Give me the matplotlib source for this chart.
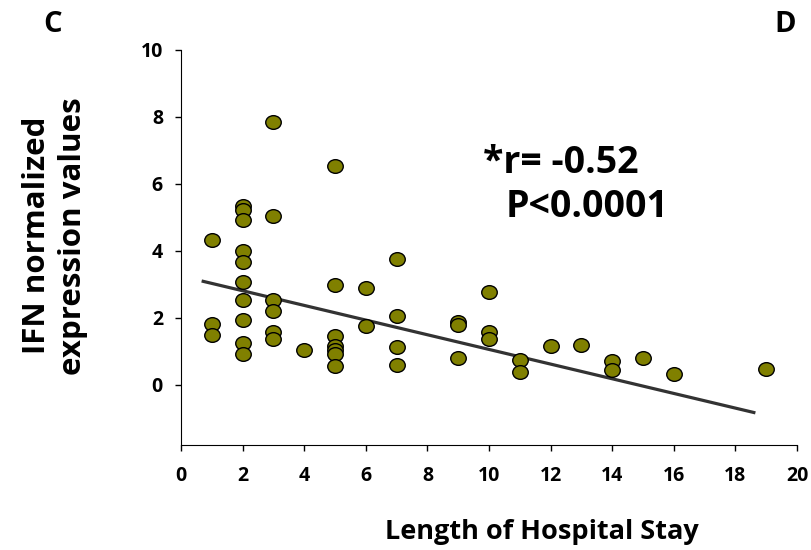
import numpy as np
import matplotlib
matplotlib.use('Agg')
import matplotlib.pyplot as plt
from matplotlib.markers import MarkerStyle
from matplotlib.transforms import Affine2D

plt.rcParams['font.family'] = ['Open Sans', 'DejaVu Sans']

# hospital stay (days) and IFN expression
stay_days = [1, 1, 1,
             2, 2, 2, 2, 2, 2, 2, 2, 2, 2,
             3, 3, 3, 3, 3, 3,
             4,
             5, 5, 5, 5, 5, 5, 5,
             6, 6,
             7, 7, 7, 7,
             9, 9, 9,
             10, 10, 10,
             11, 11, 12, 13, 14, 14, 15, 16, 19]
ifn_values = [4.33, 1.82, 1.49,
              5.35, 5.22, 4.92, 4.0, 3.68, 3.08, 2.52, 1.94, 1.26, 0.93,
              7.84, 5.03, 2.52, 2.19, 1.58, 1.36,
              1.04,
              6.52, 2.99, 1.47, 1.17, 1.04, 0.93, 0.57,
              2.88, 1.75,
              3.76, 2.06, 1.14, 0.6,
              1.86, 1.78, 0.8,
              2.78, 1.58, 1.36,
              0.75, 0.39, 1.16, 1.2, 0.7, 0.43, 0.8, 0.33, 0.48]

# regression line end points as drawn
fit_x = [0.67, 18.65]
fit_y = [3.1, -0.84]

x_ticks = [0, 2, 4, 6, 8, 10, 12, 14, 16, 18, 20]
y_ticks = [0, 2, 4, 6, 8, 10]

fig = plt.figure(figsize=(8.12, 5.5), dpi=100)
ax = fig.add_axes([0.2229, 0.1909, 0.7586, 0.7182])

ax.plot(fit_x, fit_y, color='#333333', lw=2.3, zorder=2, solid_capstyle='butt')
oval = MarkerStyle('o', transform=Affine2D().scale(1.0, 0.88))
ax.scatter(stay_days, ifn_values, s=125, c='#808000', marker=oval,
           edgecolors='black', linewidths=1.0, zorder=3)

ax.set_xlim(0, 20)
ax.set_ylim(-1.8, 10)
ax.set_xticks(x_ticks)
ax.set_yticks(y_ticks)
ax.tick_params(direction='out', length=4, width=1, labelsize=14)
ax.tick_params(axis='x', pad=11)
ax.tick_params(axis='y', pad=9)
for lab in ax.get_xticklabels() + ax.get_yticklabels():
    lab.set_fontweight('bold')

for side in ['top', 'right']:
    ax.spines[side].set_visible(False)

ax.set_xlabel('Length of Hospital Stay', fontsize=19.5, fontweight='bold', va='center')
ax.xaxis.set_label_coords(0.586, -0.22)
ax.set_ylabel('IFN normalized\nexpression values', fontsize=22.5, fontweight='bold',
              linespacing=1.25, va='center')
ax.yaxis.set_label_coords(-0.205, 0.53)

ax.text(9.8, 6.63, '*r= -0.52', fontsize=27, fontweight='bold', ha='left', va='center')
ax.text(10.55, 5.31, 'P<0.0001', fontsize=27, fontweight='bold', ha='left', va='center')

fig.text(53 / 812, 1 - 25 / 550, 'C', fontsize=21, fontweight='bold', ha='center', va='center')
fig.text(785 / 812, 1 - 25 / 550, 'D', fontsize=21, fontweight='bold', ha='center', va='center')

fig.savefig('out.png', dpi=100)
